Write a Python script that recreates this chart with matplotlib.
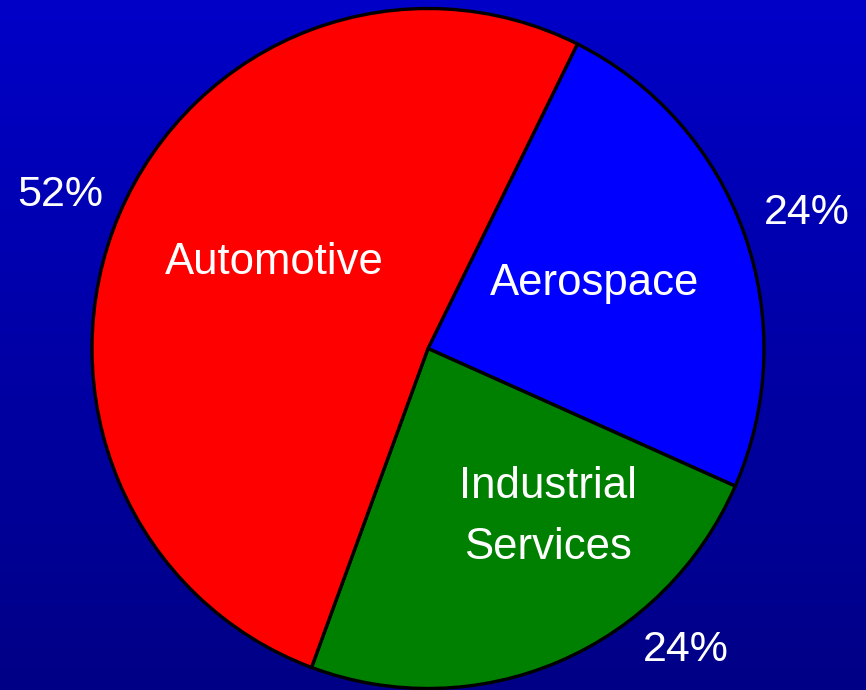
import numpy as np
import matplotlib.pyplot as plt

# data
sectors = ['Aerospace', 'Industrial\nServices', 'Automotive']
shares = [24.3, 24.0, 51.7]   # as measured from the slices
pct_labels = ['24%', '24%', '52%']
colours = ['#0000ff', '#008000', '#ff0000']

plt.rcParams['font.family'] = ['Liberation Sans', 'DejaVu Sans']

fig = plt.figure(figsize=(8.66, 6.9), dpi=100)
ax = fig.add_axes([0, 0, 1, 1])

# pie centre at pixel (428,348), radius 336 px across, 340 px up/down
cx, cy = 428.0, 348.5
rx, ry = 336.0, 340.0
x0 = -cx / rx
x1 = (866 - cx) / rx
y0 = (cy - 690) / ry
y1 = cy / ry


def px(x, y):
    # pixel position (from top left) -> data coords
    return (x - cx) / rx, (cy - y) / ry


# background gradient, lighter at top
grad = np.linspace(0, 1, 256).reshape(-1, 1)
top = np.array([0, 0, 200]) / 255
bot = np.array([0, 0, 134]) / 255
img = top[None, None, :] * (1 - grad[:, :, None]) + bot[None, None, :] * grad[:, :, None]
ax.imshow(img, extent=[x0, x1, y0, y1], aspect='auto', zorder=0)

wedges, _ = ax.pie(shares, colors=colours, startangle=63.6, counterclock=False,
                   radius=1.0, center=(0, 0),
                   wedgeprops=dict(edgecolor='black', linewidth=2.4))
for w in wedges:
    w.set_zorder(2)

# labels inside slices
inner_pos = [(595, 283), (547.5, 517), (274, 262)]
for name, (x, y) in zip(sectors, inner_pos):
    ax.text(*px(x, y), name, color='white', fontsize=31.5, ha='center',
            va='center', linespacing=1.6, zorder=3)

# percentages outside
outer_pos = [(807, 213), (686, 650), (60, 195)]
for txt, (x, y) in zip(pct_labels, outer_pos):
    ax.text(*px(x, y), txt, color='white', fontsize=31, ha='center',
            va='center', zorder=3)

ax.set_xlim(x0, x1)
ax.set_ylim(y0, y1)
ax.set_aspect('auto')
ax.axis('off')

fig.savefig('out.png', dpi=100)
